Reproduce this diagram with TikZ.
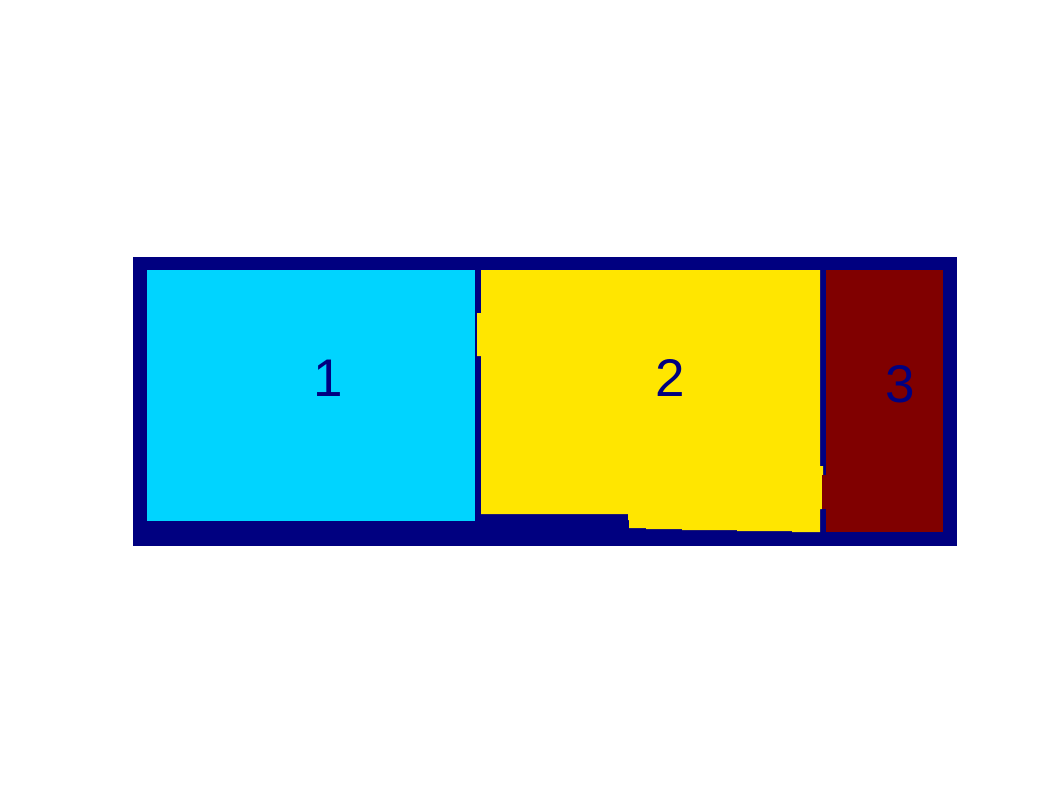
\documentclass[tikz,border=0pt]{standalone}
\usepackage{fontspec}
\setmainfont{Liberation Sans}
\definecolor{jnavy}{RGB}{0,0,128}
\definecolor{jcyan}{RGB}{0,212,255}
\definecolor{jyellow}{RGB}{255,230,0}
\definecolor{jred}{RGB}{128,0,0}
\begin{document}
\begin{tikzpicture}[x=1pt,y=-1pt,
  lab/.style={text=jnavy,inner sep=0pt,font=\fontsize{53}{53}\selectfont}]
\useasboundingbox (0,0) rectangle (1062,796);
\fill[white] (0,0) rectangle (1062,796);
% outer frame
\fill[jnavy] (133,257) rectangle (957,546);
% region 1
\fill[jcyan] (147,270) rectangle (475,521);
% region 2
\fill[jyellow] (481,270) -- (820,270) -- (820,466) -- (823,466) -- (823,475) -- (822,475)
  -- (822,509) -- (820,509) -- (820,532) -- (792,532) -- (792,531) -- (737,531) -- (737,530)
  -- (682,530) -- (682,529) -- (646,529) -- (646,528) -- (629,528) -- (629,520) -- (628,520)
  -- (628,514) -- (481,514) -- (481,356) -- (477,356) -- (477,313) -- (481,313) -- cycle;
% region 3
\fill[jred] (826,270) rectangle (943,532);
\fill[jred] (822,475) rectangle (826,509);
% labels
\node[lab] (l1) at (328,378) {1};
\node[lab] (l2) at (670,378) {2};
\node[lab] (l3) at (900,384) {3};
\end{tikzpicture}
\end{document}
